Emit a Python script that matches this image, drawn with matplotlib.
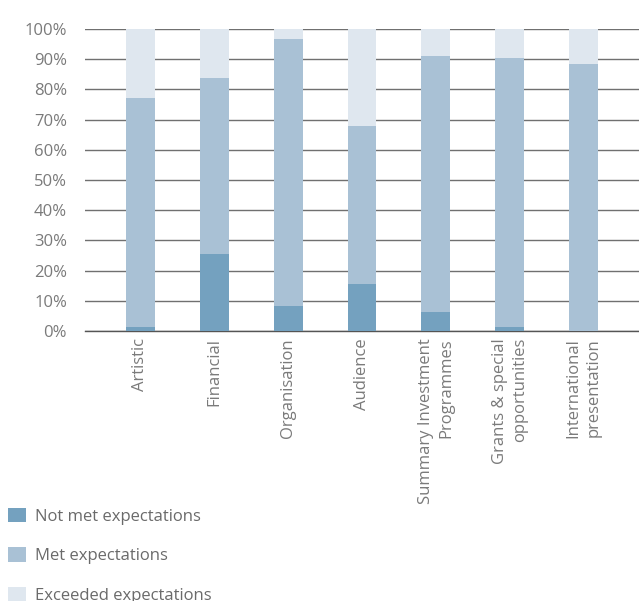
import matplotlib
matplotlib.use("Agg")
import matplotlib.pyplot as plt
from matplotlib.patches import Patch
import numpy as np

categories = ["Artistic", "Financial", "Organisation", "Audience",
              "Summary Investment\nProgrammes", "Grants & special\nopportunities",
              "International\npresentation"]
not_met = [1.3, 25.5, 8.3, 15.6, 6.3, 1.3, 0.0]
met = [75.9, 58.3, 88.4, 52.3, 84.8, 89.1, 88.4]
exceeded = [22.8, 16.2, 3.3, 32.1, 8.9, 9.6, 11.6]
series_names = ["Not met expectations", "Met expectations", "Exceeded expectations"]
colors = ["#74a1bf", "#a9c1d5", "#dfe7ef"]
yticks = list(range(0, 101, 10))

plt.rcParams['font.family'] = ['Open Sans', 'DejaVu Sans']

fig = plt.figure(figsize=(6.39, 6.01), dpi=100)
ax = fig.add_axes([0.133, 0.449, 0.867, 0.503])

x = np.arange(len(categories))
w = 0.39
b1 = np.array(not_met)
b2 = b1 + np.array(met)
ax.bar(x, not_met, w, color=colors[0], zorder=3)
ax.bar(x, met, w, bottom=b1, color=colors[1], zorder=3)
ax.bar(x, exceeded, w, bottom=b2, color=colors[2], zorder=3)

ax.set_xlim(-0.75, 6.75)
ax.set_ylim(0, 100)
ax.set_yticks(yticks)
ax.set_yticklabels([f"{t}%" for t in yticks])
ax.yaxis.grid(True, color="#707070", linewidth=1.0, zorder=0)
ax.set_axisbelow(True)
for s in ["top", "right", "left"]:
    ax.spines[s].set_visible(False)
ax.spines["bottom"].set_color("#555555")
ax.spines["bottom"].set_linewidth(1.0)
ax.tick_params(axis="y", length=0, pad=13, labelsize=12, labelcolor="#7a7a7a")
ax.tick_params(axis="x", length=0, pad=5, labelsize=12, labelcolor="#7a7a7a")
ax.set_xticks(x)
ax.set_xticklabels(categories, rotation=90, va="top", ha="center",
                   multialignment="right", linespacing=1.35)

handles = [Patch(facecolor=c, edgecolor="none") for c in colors]
leg = fig.legend(handles, series_names, loc="upper left", bbox_to_anchor=(0.0125, 0.155),
                 frameon=False, handlelength=1.08, handleheight=0.96, labelspacing=1.36,
                 handletextpad=0.54, fontsize=12, borderaxespad=0, borderpad=0)
for t in leg.get_texts():
    t.set_color("#6a6a6a")

fig.savefig("out.png", dpi=100)
